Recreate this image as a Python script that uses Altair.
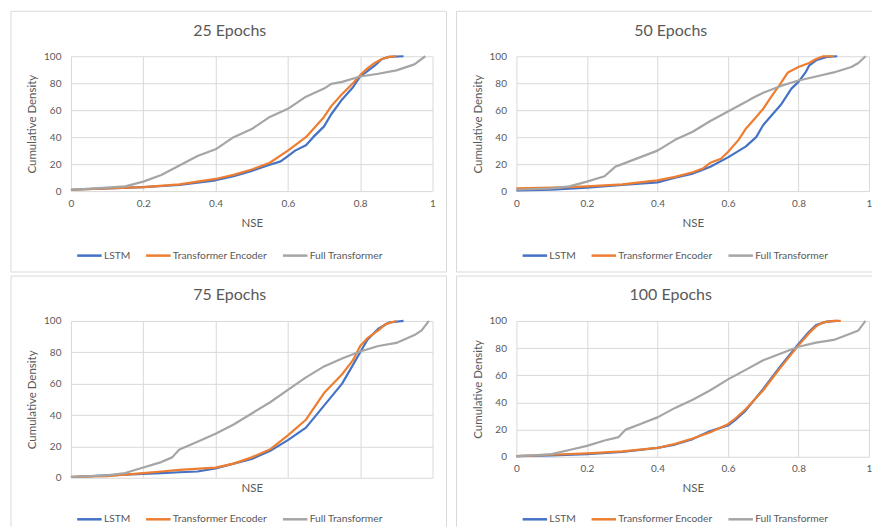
import altair as alt
import pandas as pd

SERIES = ["LSTM", "Transformer Encoder", "Full Transformer"]
COLORS = ["#4472C4", "#ED7D31", "#A5A5A5"]
TITLES = ["25 Epochs", "50 Epochs", "75 Epochs", "100 Epochs"]
X_TICKS = [0, 0.2, 0.4, 0.6, 0.8, 1]
Y_TICKS = [0, 20, 40, 60, 80, 100]

# ---- 25 epochs ----
e25_lstm_x = [0, 0.1, 0.2, 0.3, 0.4, 0.45, 0.5, 0.55, 0.58, 0.6, 0.62, 0.65, 0.67, 0.7, 0.72, 0.75, 0.78, 0.8, 0.82, 0.84, 0.86, 0.88, 0.92]
e25_lstm_y = [1, 2, 3, 4.5, 8, 11, 15, 19.5, 22, 26, 30, 34, 40, 48, 57, 68, 77, 85, 89, 93, 98, 99.5, 100]
e25_te_x = [0, 0.1, 0.2, 0.3, 0.4, 0.45, 0.5, 0.55, 0.6, 0.65, 0.7, 0.72, 0.75, 0.78, 0.8, 0.82, 0.84, 0.86, 0.88, 0.9]
e25_te_y = [1, 2, 3, 5, 9, 12, 16, 21, 30, 40, 55, 63, 72, 80, 86, 91, 95, 98, 99.5, 100]
e25_ft_x = [0, 0.1, 0.15, 0.2, 0.25, 0.3, 0.35, 0.4, 0.45, 0.5, 0.55, 0.6, 0.65, 0.7, 0.72, 0.75, 0.8, 0.85, 0.9, 0.95, 0.98]
e25_ft_y = [1, 2.5, 3.5, 7, 12, 19, 26, 31, 40, 46, 55, 61, 70, 76, 79.5, 81, 85, 87, 89.5, 94, 100]

# ---- 50 epochs ----
e50_lstm_x = [0, 0.1, 0.2, 0.3, 0.4, 0.45, 0.5, 0.52, 0.55, 0.6, 0.65, 0.68, 0.7, 0.75, 0.78, 0.8, 0.82, 0.83, 0.85, 0.88, 0.91]
e50_lstm_y = [0.5, 1, 2.5, 4.5, 6.5, 10, 13, 15, 18, 25, 33, 40, 49, 64, 76, 81, 88, 93, 97, 99.5, 100]
e50_te_x = [0, 0.1, 0.2, 0.3, 0.4, 0.45, 0.5, 0.53, 0.55, 0.58, 0.6, 0.63, 0.65, 0.68, 0.7, 0.72, 0.75, 0.77, 0.8, 0.83, 0.85, 0.87, 0.9]
e50_te_y = [2, 2.5, 3.5, 5, 8, 10.5, 14, 17, 21, 24, 29, 38, 46, 55, 61, 69, 80, 88, 92, 95, 98, 100, 100]
e50_ft_x = [0, 0.1, 0.15, 0.2, 0.25, 0.28, 0.3, 0.35, 0.4, 0.45, 0.5, 0.55, 0.6, 0.65, 0.67, 0.7, 0.75, 0.8, 0.85, 0.9, 0.95, 0.97, 0.99]
e50_ft_y = [1, 2, 3.5, 7, 11, 18, 20, 25, 30, 38, 44, 52, 59, 66, 69, 73, 78, 82, 85, 88, 92, 95, 100]

# ---- 75 epochs ----
e75_lstm_x = [0, 0.1, 0.2, 0.25, 0.3, 0.35, 0.4, 0.45, 0.5, 0.52, 0.55, 0.6, 0.65, 0.7, 0.75, 0.78, 0.8, 0.82, 0.85, 0.88, 0.92]
e75_lstm_y = [0.5, 1.5, 2.5, 3, 3.5, 4, 6, 9, 12, 14, 17, 24, 32, 46, 60, 72, 80, 88, 95, 99, 100]
e75_te_x = [0, 0.1, 0.2, 0.25, 0.3, 0.4, 0.45, 0.5, 0.55, 0.6, 0.65, 0.7, 0.75, 0.78, 0.8, 0.82, 0.85, 0.87, 0.9]
e75_te_y = [0.5, 1, 3, 4, 5, 6.5, 9, 13, 18, 27, 37, 54, 66, 75, 84, 89, 94, 98, 100]
e75_ft_x = [0, 0.1, 0.15, 0.2, 0.25, 0.28, 0.3, 0.35, 0.4, 0.45, 0.5, 0.55, 0.6, 0.65, 0.7, 0.75, 0.8, 0.85, 0.9, 0.95, 0.97, 0.99]
e75_ft_y = [0.5, 1.5, 3, 6.5, 10, 13, 18, 23, 28, 34, 41, 48, 56, 64, 71, 76, 80.5, 84, 86, 91, 94, 100]

# ---- 100 epochs ----
e100_lstm_x = [0, 0.1, 0.2, 0.3, 0.4, 0.45, 0.5, 0.55, 0.6, 0.62, 0.65, 0.7, 0.75, 0.8, 0.83, 0.85, 0.88, 0.91]
e100_lstm_y = [0.5, 1, 2, 3.5, 6.5, 9, 13, 19, 23, 27, 34, 50, 67, 83, 92, 97, 99.5, 100]
e100_te_x = [0, 0.1, 0.2, 0.3, 0.4, 0.45, 0.5, 0.55, 0.6, 0.62, 0.65, 0.7, 0.75, 0.8, 0.83, 0.85, 0.87, 0.9, 0.92]
e100_te_y = [0.5, 1.5, 2.5, 4, 6.5, 9.5, 13.5, 18, 24, 28, 35, 49, 66, 82, 91, 96, 99, 100, 100]
e100_ft_x = [0, 0.05, 0.1, 0.15, 0.2, 0.25, 0.29, 0.31, 0.35, 0.4, 0.45, 0.5, 0.55, 0.6, 0.65, 0.7, 0.75, 0.8, 0.85, 0.9, 0.95, 0.97, 0.99]
e100_ft_y = [0.5, 1, 2, 5, 8, 12, 14.5, 20, 24, 29, 36, 42, 49, 57, 64, 71, 76, 81, 84, 86, 91, 93, 100]

PANELS = [
    [(e25_lstm_x, e25_lstm_y), (e25_te_x, e25_te_y), (e25_ft_x, e25_ft_y)],
    [(e50_lstm_x, e50_lstm_y), (e50_te_x, e50_te_y), (e50_ft_x, e50_ft_y)],
    [(e75_lstm_x, e75_lstm_y), (e75_te_x, e75_te_y), (e75_ft_x, e75_ft_y)],
    [(e100_lstm_x, e100_lstm_y), (e100_te_x, e100_te_y), (e100_ft_x, e100_ft_y)],
]

FONT = "Lato"
TEXT = "#595959"
GRID = "#D9D9D9"
BORDER = "#D9D9D9"


def make_panel(idx, width, height, edges, show_x_labels, legend_y):
    rows = []
    for name, (xs, ys) in zip(SERIES, PANELS[idx]):
        for i, (x, y) in enumerate(zip(xs, ys)):
            rows.append({"series": name, "nse": x, "cd": y, "i": i})
    df = pd.DataFrame(rows)

    one = pd.DataFrame({"k": [0]})
    border_layers = [
        alt.Chart(one).mark_rule(color=BORDER, strokeWidth=1).encode(
            x=alt.value(a), x2=alt.value(b), y=alt.value(c), y2=alt.value(d)
        )
        for (a, b, c, d) in edges
    ]

    lines = alt.Chart(df).mark_line(strokeWidth=2.2, strokeJoin="round").encode(
        x=alt.X(
            "nse:Q",
            scale=alt.Scale(domain=[0, 1], nice=False, zero=False),
            axis=alt.Axis(
                values=X_TICKS, format="~g", title="NSE", labels=show_x_labels,
                labelPadding=7, titlePadding=9 if show_x_labels else 5,
            ),
        ),
        y=alt.Y(
            "cd:Q",
            scale=alt.Scale(domain=[0, 100], nice=False),
            axis=alt.Axis(values=Y_TICKS, format="d", title="Cumulative Density",
                          labelPadding=10, titlePadding=6),
        ),
        color=alt.Color(
            "series:N",
            scale=alt.Scale(domain=SERIES, range=COLORS),
            legend=alt.Legend(
                title=None, orient="none", legendX=5, legendY=legend_y,
                direction="horizontal", symbolType="stroke", symbolSize=600,
                symbolStrokeWidth=2.5, labelFont=FONT, labelFontSize=10.3,
                labelColor=TEXT, labelOffset=1, columnPadding=10, padding=0,
            ),
        ),
        order=alt.Order("i:Q"),
    )

    return alt.layer(*border_layers, lines).properties(
        width=width,
        height=height,
        title=alt.TitleParams(
            TITLES[idx], font=FONT, fontSize=16, fontWeight="normal", color=TEXT,
            anchor="middle", frame="group", dx=-22, dy=28, offset=0,
        ),
    )


# right-hand panels are a little narrower so that the whole figure fits the page width
p1 = make_panel(0, 362, 135,
                [(-60, 376, -45, -45), (-60, 376, 216, 216), (-60, -60, -45, 216), (376, 376, -45, 216)],
                True, 186)
p2 = make_panel(1, 353, 135,
                [(-60, 356, -45, -45), (-60, 356, 216, 216), (-60, -60, -45, 216)],
                True, 186)
p3 = make_panel(2, 362, 157,
                [(-60, 376, -45, -45), (-60, -60, -45, 206), (376, 376, -45, 206)],
                False, 185)
p4 = make_panel(3, 353, 136,
                [(-60, 356, -45, -45), (-60, -60, -45, 206)],
                True, 185)

chart = (
    alt.concat(p1, p2, p3, p4, columns=2, spacing={"row": 130, "column": 84}, bounds="flush")
    .resolve_legend(color="independent")
    .properties(padding={"left": 2, "top": 2, "right": 0, "bottom": 0}, background="white")
    .configure_view(strokeWidth=0)
    .configure_axis(
        grid=True, gridColor=GRID, gridWidth=1, domain=False, ticks=False,
        labelFont=FONT, labelFontSize=10, labelColor=TEXT,
        labelFlush=False, labelOverlap=False, labelBound=False,
        titleFont=FONT, titleFontSize=11.5, titleColor=TEXT, titleFontWeight="normal",
    )
)

chart.save("out.html", embed_options={"renderer": "svg", "actions": False})
